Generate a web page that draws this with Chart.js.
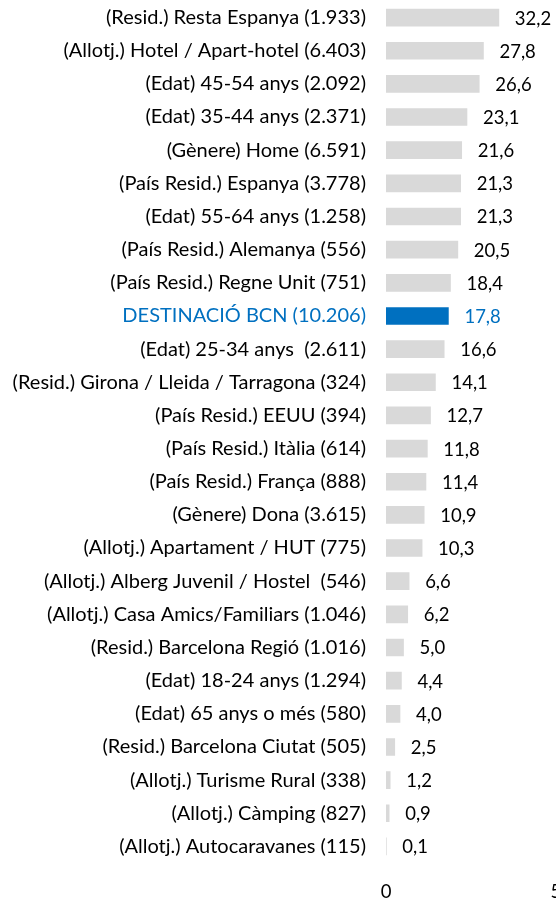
<!DOCTYPE html>
<html>
<head>
<meta charset="utf-8">
<script src="https://cdn.jsdelivr.net/npm/chart.js@4"></script>
<style>
  html, body { margin: 0; padding: 0; background: #fff; overflow: hidden; }
</style>
</head>
<body>
<canvas id="bars" width="590" height="900"></canvas>
<script>
// categories and values (percent), top to bottom
const categories = [
    '(Resid.) Resta Espanya (1.933)',
    '(Allotj.) Hotel / Apart-hotel (6.403)',
    '(Edat) 45-54 anys (2.092)',
    '(Edat) 35-44 anys (2.371)',
    '(Gènere) Home (6.591)',
    '(País Resid.) Espanya (3.778)',
    '(Edat) 55-64 anys (1.258)',
    '(País Resid.) Alemanya (556)',
    '(País Resid.) Regne Unit (751)',
    'DESTINACIÓ BCN (10.206)',
    '(Edat) 25-34 anys  (2.611)',
    '(Resid.) Girona / Lleida / Tarragona (324)',
    '(País Resid.) EEUU (394)',
    '(País Resid.) Itàlia (614)',
    '(País Resid.) França (888)',
    '(Gènere) Dona (3.615)',
    '(Allotj.) Apartament / HUT (775)',
    '(Allotj.) Alberg Juvenil / Hostel  (546)',
    '(Allotj.) Casa Amics/Familiars (1.046)',
    '(Resid.) Barcelona Regió (1.016)',
    '(Edat) 18-24 anys (1.294)',
    '(Edat) 65 anys o més (580)',
    '(Resid.) Barcelona Ciutat (505)',
    '(Allotj.) Turisme Rural (338)',
    '(Allotj.) Càmping (827)',
    '(Allotj.) Autocaravanes (115)'
];
const values = [32.2, 27.8, 26.6, 23.1, 21.6, 21.3, 21.3, 20.5, 18.4, 17.8, 16.6, 14.1, 12.7,
                11.8, 11.4, 10.9, 10.3, 6.6, 6.2, 5.0, 4.4, 4.0, 2.5, 1.2, 0.9, 0.1];
const highlight = 'DESTINACIÓ BCN (10.206)';
const xTicks = [0, 50];

const GREY = '#D9D9D9';
const BLUE = '#0070C0';
const FONT = 'Lato, "Open Sans", sans-serif';

const isHi = i => categories[i] === highlight;

// writes the value after every bar, with a decimal comma
const valueLabels = {
    id: 'valueLabels',
    afterDatasetsDraw(chart) {
        const ctx = chart.ctx;
        const meta = chart.getDatasetMeta(0);
        ctx.save();
        ctx.font = '18.5px ' + FONT;
        ctx.textAlign = 'left';
        ctx.textBaseline = 'middle';
        meta.data.forEach((bar, i) => {
            ctx.fillStyle = isHi(i) ? BLUE : '#000';
            ctx.fillText(values[i].toFixed(1).replace('.', ','), bar.x + 16, bar.y + 1);
        });
        ctx.restore();
    }
};

new Chart(document.getElementById('bars').getContext('2d'), {
    type: 'bar',
    data: {
        labels: categories,
        datasets: [{
            data: values,
            backgroundColor: values.map((v, i) => isHi(i) ? BLUE : GREY),
            barThickness: 17,
            borderWidth: 0
        }]
    },
    options: {
        indexAxis: 'y',
        responsive: false,
        animation: false,
        devicePixelRatio: 1,
        layout: { padding: { top: 1, right: 27, bottom: 0, left: 0 } },
        plugins: {
            legend: { display: false },
            tooltip: { enabled: false }
        },
        scales: {
            x: {
                min: 0,
                max: 50,
                afterBuildTicks: s => { s.ticks = xTicks.map(v => ({ value: v })); },
                grid: { display: false, drawTicks: false },
                border: { display: false },
                ticks: { color: '#000', font: { family: FONT, size: 18.5 }, padding: 18 },
                afterFit: s => { s.height = 37; }
            },
            y: {
                grid: { display: false, drawTicks: false },
                border: { display: false },
                ticks: {
                    color: c => isHi(c.index) ? BLUE : '#000',
                    font: { family: FONT, size: 20 },
                    padding: 20,
                    autoSkip: false
                },
                afterFit: s => {
                    s.width = 386;
                    s.paddingTop = 0;
                    s.paddingBottom = 0;
                }
            }
        }
    },
    plugins: [valueLabels]
});
</script>
</body>
</html>
